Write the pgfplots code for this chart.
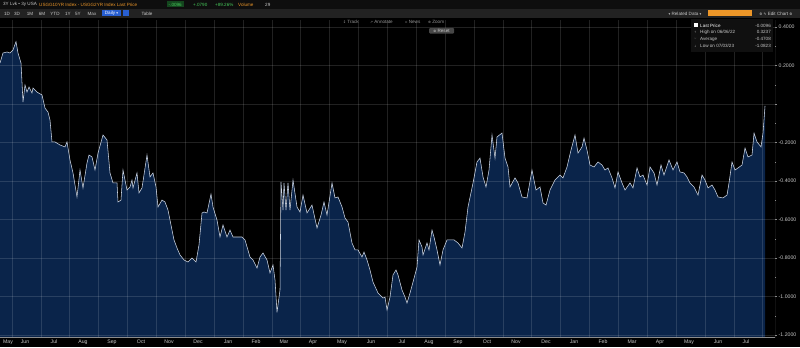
\documentclass[border=0pt]{standalone}
\usepackage{fontspec}
\setmainfont{Liberation Sans}
\newfontfamily\dejavu{DejaVu Sans}
\usepackage{pgfplots}
\pgfplotsset{compat=1.18}
\usepackage{pgfplotstable}

\definecolor{navy}{RGB}{10,36,74}
\definecolor{linec}{RGB}{205,214,228}
\definecolor{labc}{RGB}{200,200,200}
\definecolor{dimc}{RGB}{150,150,150}
\definecolor{axc}{RGB}{140,140,140}
\definecolor{bbor}{RGB}{236,150,40}
\definecolor{bbgreen}{RGB}{70,200,90}
\definecolor{bbgreenbg}{RGB}{20,70,30}
\definecolor{bar1}{RGB}{14,14,14}
\definecolor{bar2}{RGB}{34,34,34}
\definecolor{btnblue}{RGB}{40,95,210}
\definecolor{legbg}{RGB}{16,16,16}

\pgfplotstableread{
x y
0 0.213
3 0.265
7 0.270
10 0.265
13 0.281
16 0.324
18 0.265
21 0.213
23 0.010
25 0.099
27 0.062
29 0.088
32 0.057
33 0.083
37 0.062
42 0.047
45 -0.021
48 -0.042
50 -0.083
52 -0.197
55 -0.197
60 -0.213
65 -0.223
67 -0.197
70 -0.291
73 -0.358
77 -0.483
80 -0.343
83 -0.436
87 -0.306
89 -0.265
92 -0.275
95 -0.343
98 -0.255
103 -0.161
107 -0.187
110 -0.358
113 -0.410
117 -0.410
118 -0.509
121 -0.499
123 -0.343
127 -0.447
130 -0.431
132 -0.395
133 -0.436
137 -0.358
139 -0.462
142 -0.436
147 -0.265
150 -0.379
153 -0.358
156 -0.431
158 -0.535
162 -0.499
165 -0.509
168 -0.551
172 -0.655
174 -0.706
177 -0.748
180 -0.784
184 -0.810
188 -0.821
192 -0.800
196 -0.821
199 -0.732
202 -0.566
204 -0.561
207 -0.566
211 -0.468
213 -0.535
217 -0.603
220 -0.691
223 -0.629
227 -0.691
230 -0.655
233 -0.691
237 -0.691
242 -0.691
245 -0.706
250 -0.795
253 -0.810
257 -0.852
260 -0.795
263 -0.774
267 -0.810
270 -0.878
273 -0.836
275 -0.914
277 -1.082
280 -0.966
281 -0.405
283 -0.551
284 -0.410
286 -0.551
288 -0.410
290 -0.551
293 -0.395
297 -0.535
300 -0.561
303 -0.473
307 -0.566
312 -0.525
317 -0.644
321 -0.577
324 -0.509
327 -0.577
332 -0.410
335 -0.488
338 -0.483
342 -0.535
345 -0.592
348 -0.613
352 -0.722
355 -0.758
358 -0.758
362 -0.795
364 -0.769
367 -0.810
370 -0.862
373 -0.925
378 -0.982
383 -1.008
385 -1.003
387 -1.070
390 -1.003
393 -0.888
396 -0.862
398 -0.888
402 -0.966
405 -1.003
407 -1.034
410 -0.982
413 -0.925
417 -0.847
419 -0.706
422 -0.743
423 -0.784
427 -0.722
429 -0.758
432 -0.655
434 -0.691
437 -0.758
440 -0.836
443 -0.758
447 -0.706
450 -0.706
454 -0.706
458 -0.722
462 -0.748
465 -0.665
468 -0.535
473 -0.410
477 -0.301
480 -0.281
483 -0.379
486 -0.431
489 -0.343
492 -0.161
495 -0.281
497 -0.171
502 -0.151
505 -0.281
508 -0.327
510 -0.431
515 -0.384
518 -0.410
522 -0.483
527 -0.488
532 -0.343
536 -0.447
540 -0.431
543 -0.514
546 -0.525
550 -0.447
555 -0.395
560 -0.369
563 -0.384
567 -0.327
571 -0.239
575 -0.161
578 -0.255
582 -0.223
584 -0.177
587 -0.239
590 -0.317
594 -0.327
598 -0.301
602 -0.317
605 -0.343
608 -0.332
612 -0.384
615 -0.436
618 -0.353
622 -0.410
625 -0.447
630 -0.410
633 -0.436
637 -0.332
640 -0.379
643 -0.369
647 -0.421
650 -0.327
654 -0.358
657 -0.421
661 -0.317
664 -0.369
669 -0.291
673 -0.343
677 -0.301
680 -0.353
684 -0.358
687 -0.379
690 -0.410
694 -0.431
698 -0.473
702 -0.369
705 -0.395
708 -0.436
712 -0.421
715 -0.447
718 -0.483
723 -0.488
727 -0.473
729 -0.410
732 -0.301
735 -0.343
738 -0.332
742 -0.317
745 -0.229
748 -0.275
752 -0.265
754 -0.151
757 -0.197
761 -0.223
763 -0.151
765 -0.010
}\spread

\begin{document}
\begin{tikzpicture}[x=1bp,y=1bp]
\fill[black] (0,0) rectangle (800,347);
\begin{axis}[
  at={(0bp,10bp)}, anchor=south west,
  scale only axis, width=775bp, height=317bp,
  xmin=0, xmax=775, ymin=-1.2104, ymax=0.4364,
  axis on top,
  axis line style={draw=none},
  xtick={8,25,54,83,112,141,169,198,228,256,284,313,342,371,402,429,458,487,516,546,574,603,632,660,689,718,746},
  xticklabels={May,Jun,Jul,Aug,Sep,Oct,Nov,Dec,Jan,Feb,Mar,Apr,May,Jun,Jul,Aug,Sep,Oct,Nov,Dec,Jan,Feb,Mar,Apr,May,Jun,Jul},
  minor xtick={12,40.87,...,763},
  xmajorgrids=false, xminorgrids=true, ymajorgrids=true,
  ytick={-1.2,-1,-0.8,-0.6,-0.4,-0.2,0,0.2,0.4},
  yticklabels={-1.2000,-1.0000,-0.8000,-0.6000,-0.4000,-0.2000,,0.2000,0.4000},
  minor ytick={-1.1,-0.9,-0.7,-0.5,-0.3,-0.1,0.1,0.3},
  yticklabel pos=right, ytick pos=right, xtick pos=bottom,
  tick align=outside,
  major tick length=2bp, minor tick length=1.2bp,
  xtick style={draw=none},
  ytick style={draw=axc, line width=0.5bp},
  tick label style={font=\fontsize{5.2}{6}\selectfont, text=labc},
  xticklabel style={inner sep=1bp},
  yticklabel style={inner sep=1.5bp},
  major grid style={draw=white, opacity=0.13, line width=0.5bp},
  minor grid style={draw=white, opacity=0.13, line width=0.5bp},
]
\addplot[fill=navy, draw=none] table[x=x,y=y] {\spread}
  -- (axis cs:765,-1.2104) -- (axis cs:0,-1.2104) -- cycle;
\addplot[linec, line width=0.55bp] table[x=x,y=y] {\spread};
\draw[axc, line width=0.6bp] (rel axis cs:0,0) -- (rel axis cs:1,0) -- (rel axis cs:1,1);
\node[fill=white!88!black, text=black, font=\fontsize{4.3}{5}\selectfont, inner sep=0.8bp, minimum width=22bp, anchor=west, rounded corners=0.5bp] at (axis cs:776,-0.010) {-0.0096};
\end{axis}

% header bars
\fill[bar1] (0,338) rectangle (800,347);
\fill[bar2] (0,329) rectangle (800,338);
\begin{scope}[every node/.style={inner sep=0, font=\fontsize{4.6}{5}\selectfont}]
\node[anchor=west, text=labc] at (3,342.5) {3Y Lvk \textbullet\ 3y USA};
\node[anchor=west, text=bbor] at (39,342.5) {USGG10YR Index - USGG2YR Index Last Price};
\fill[bbgreenbg] (167,339.5) rectangle (184,345.5);
\node[anchor=west, text=bbgreen] at (168.5,342.5) {-.0096};
\node[anchor=west, text=bbgreen] at (193,342.5) {+.0790};
\node[anchor=west, text=bbgreen] at (215,342.5) {+89.26\%};
\node[anchor=west, text=bbor] at (238,342.5) {Volume};
\node[anchor=west, text=labc] at (265,342.5) {29};
% row 2
\node[text=labc] at (7,333.5) {1D};
\node[text=labc] at (17,333.5) {3D};
\node[text=labc] at (30,333.5) {1M};
\node[text=labc] at (42,333.5) {6M};
\node[text=labc] at (55,333.5) {YTD};
\node[text=labc] at (68,333.5) {1Y};
\node[text=labc] at (78,333.5) {5Y};
\node[text=labc] at (92,333.5) {Max};
\fill[btnblue] (102,330.5) rectangle (121,336.5);
\node[text=white] at (111.5,333.5) {Daily {\dejavu\fontsize{3.5}{4}\selectfont ▾}};
\fill[btnblue] (123,330.5) rectangle (129,336.5);
\node[text=labc] at (147,333.5) {Table};
\node[text=labc] at (685,333.5) {{\dejavu\fontsize{3.5}{4}\selectfont ▾} Related Data {\dejavu\fontsize{3.5}{4}\selectfont ▾}};
\fill[bbor] (708,330.5) rectangle (752,336.5);
\node[text=labc] at (776,333.5) {{\dejavu\fontsize{3.5}{4}\selectfont ⚙ ✎} Edit Chart {\dejavu\fontsize{3.5}{4}\selectfont ⚙}};
% row 3
\node[text=dimc, anchor=west] at (343,325.5) {{\dejavu\fontsize{3.5}{4}\selectfont ↕} Track};
\node[text=dimc, anchor=west] at (370,325.5) {{\dejavu\fontsize{3.5}{4}\selectfont ↗} Annotate};
\node[text=dimc, anchor=west] at (405,325.5) {{\dejavu\fontsize{3.5}{4}\selectfont ▫} News};
\node[text=dimc, anchor=west] at (428,325.5) {{\dejavu\fontsize{3.5}{4}\selectfont ⊕} Zoom};
\fill[black!72!white, rounded corners=1bp] (429,313.5) rectangle (454,319);
\node[text=labc] at (441.5,316.3) {{\dejavu\fontsize{3.5}{4}\selectfont ⊗} Reset};
% legend box
\fill[legbg] (691,295) rectangle (773,328);
\fill[white] (693.5,319.5) rectangle (697.5,323.5);
\node[text=white, anchor=west] at (700,321.5) {Last Price};
\node[text=labc, anchor=east] at (771,321.5) {-0.0096};
\node[text=dimc, anchor=west] at (694,315) {{\dejavu\fontsize{3}{4}\selectfont ↑}};
\node[text=labc, anchor=west] at (700,315) {High on 06/06/22};
\node[text=labc, anchor=east] at (771,315) {0.3237};
\node[text=dimc, anchor=west] at (694,308) {{\dejavu\fontsize{3}{4}\selectfont ∼}};
\node[text=labc, anchor=west] at (700,308) {Average};
\node[text=labc, anchor=east] at (771,308) {-0.4708};
\node[text=dimc, anchor=west] at (694,301) {{\dejavu\fontsize{3}{4}\selectfont ↓}};
\node[text=labc, anchor=west] at (700,301) {Low on 07/03/23};
\node[text=labc, anchor=east] at (771,301) {-1.0823};
\end{scope}
\pgfresetboundingbox
\useasboundingbox (0,0) rectangle (800,347);
\end{tikzpicture}
\end{document}
